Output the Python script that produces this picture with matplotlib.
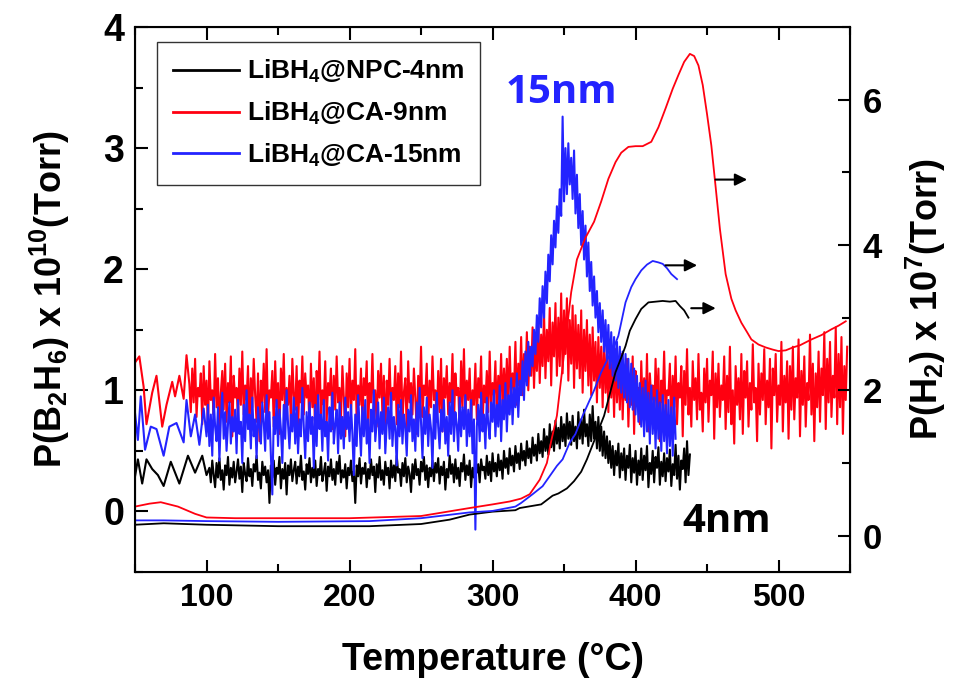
import numpy as np
import matplotlib
matplotlib.use("Agg")
import matplotlib.pyplot as plt
from matplotlib.ticker import MultipleLocator

plt.rcParams['font.family'] = ['Liberation Sans', 'DejaVu Sans']
plt.rcParams['font.weight'] = 'bold'
plt.rcParams['axes.labelweight'] = 'bold'
plt.rcParams['mathtext.fontset'] = 'custom'
plt.rcParams['mathtext.rm'] = 'Liberation Sans:bold'
plt.rcParams['mathtext.it'] = 'Liberation Sans:bold'
plt.rcParams['mathtext.bf'] = 'Liberation Sans:bold'

# B2H6 signal (left axis): sparse start, then 1 degC readings
red_b2h6_t0 = [50, 53, 56, 58, 62, 65, 69, 72, 76, 78, 81, 84, 86]
red_b2h6_v0 = [1.23, 1.28, 1.03, 0.72, 0.98, 1.12, 0.70, 0.88, 1.07, 0.95, 1.12, 0.93, 1.29]
red_b2h6 = [
    1.05, 0.82, 1.18, 0.90, 1.26, 0.78, 1.02, 0.95, 1.14, 0.72, 1.20, 0.88, 1.08, 0.66, 1.24, 0.92, 1.00, 0.80, 1.30, 0.86,
    1.10, 0.70, 0.98, 1.16, 0.84, 1.22, 0.74, 1.06, 0.90, 1.28, 0.62, 1.12, 0.94, 1.02, 0.76, 1.18, 0.88, 1.32, 0.80, 1.04,
    0.92, 1.20, 0.68, 1.10, 0.86, 1.26, 0.96, 0.74, 1.14, 0.58, 1.08, 0.90, 1.22, 0.82, 1.34, 0.78, 1.00, 0.94, 1.16, 0.70,
    1.24, 0.86, 1.06, 0.64, 1.18, 0.92, 1.30, 0.76, 1.02, 0.88, 1.12, 0.72, 1.26, 0.96, 0.84, 1.20, 0.66, 1.08, 0.90, 1.28,
    0.80, 1.14, 0.94, 1.04, 0.70, 1.22, 0.86, 1.10, 0.60, 1.16, 0.92, 1.32, 0.78, 1.00, 0.88, 1.24, 0.74, 1.06, 0.96, 1.18,
    0.68, 1.12, 0.84, 1.28, 0.90, 1.02, 0.76, 1.20, 0.94, 0.62, 1.14, 0.86, 1.26, 0.80, 1.08, 0.92, 1.34, 0.72, 1.04, 0.88,
    1.18, 0.74, 1.10, 0.96, 1.24, 0.66, 1.06, 0.90, 1.30, 0.82, 1.00, 0.70, 1.16, 0.94, 1.22, 0.78, 1.12, 0.60, 1.08, 0.88,
    1.26, 0.84, 1.02, 0.92, 1.20, 0.72, 1.14, 0.86, 1.32, 0.76, 0.98, 1.10, 0.68, 1.24, 0.90, 1.06, 0.80, 1.18, 0.94, 0.64,
    1.12, 0.88, 1.36, 0.78, 1.04, 0.96, 1.22, 0.70, 1.08, 0.86, 1.28, 0.92, 1.00, 0.74, 1.16, 0.82, 1.26, 0.66, 1.10, 0.94,
    1.20, 0.80, 1.06, 0.90, 1.30, 0.72, 1.14, 0.96, 1.02, 0.68, 1.24, 0.86, 1.34, 0.78, 1.08, 0.92, 1.18, 0.74, 1.00, 0.88,
    1.22, 0.76, 1.10, 0.94, 1.28, 0.70, 1.04, 0.90, 1.16, 0.82, 1.32, 0.86, 1.06, 0.96, 1.24, 0.78, 1.12, 0.92, 1.30, 0.84,
    1.18, 0.90, 1.26, 0.86, 1.36, 0.94, 1.14, 1.00, 1.40, 0.88, 1.22, 1.04, 1.44, 0.96, 1.30, 1.08, 1.48, 1.00, 1.36, 1.12,
    1.52, 1.02, 1.40, 1.16, 1.58, 1.06, 1.46, 1.20, 1.64, 1.10, 1.50, 1.24, 1.68, 1.04, 1.56, 1.28, 1.72, 1.12, 1.60, 1.20,
    1.80, 1.14, 1.66, 1.30, 1.76, 1.08, 1.58, 1.22, 1.70, 1.02, 1.62, 1.18, 1.54, 1.10, 1.66, 0.98, 1.50, 1.16, 1.58, 1.04,
    1.46, 0.96, 1.52, 1.08, 1.40, 0.90, 1.44, 1.02, 1.36, 0.86, 1.42, 0.98, 1.30, 0.82, 1.38, 0.94, 1.26, 0.78, 1.34, 0.90,
    1.22, 0.84, 1.30, 0.76, 1.18, 0.92, 1.26, 0.70, 1.12, 0.88, 1.28, 0.64, 1.16, 0.94, 1.02, 0.72, 1.24, 0.86, 1.10, 0.80,
    1.30, 0.66, 1.14, 0.92, 1.04, 0.74, 1.26, 0.84, 1.18, 0.58, 1.08, 0.90, 1.32, 0.78, 1.00, 0.96, 1.22, 0.68, 1.12, 0.86,
    1.28, 0.72, 1.06, 0.94, 1.20, 0.62, 1.16, 0.88, 1.34, 0.80, 1.02, 0.70, 1.24, 0.92, 1.10, 0.76, 1.30, 0.84, 0.98, 0.66,
    1.18, 0.90, 1.26, 0.74, 1.08, 0.96, 1.32, 0.60, 1.14, 0.86, 1.22, 0.78, 1.04, 0.92, 1.28, 0.68, 1.12, 0.82, 1.36, 0.72,
    1.00, 0.56, 1.20, 0.88, 1.10, 0.76, 1.30, 0.64, 1.16, 0.94, 1.24, 0.70, 1.06, 0.84, 1.38, 0.90, 1.02, 0.58, 1.22, 0.80,
    1.14, 0.92, 1.34, 0.72, 1.08, 0.86, 1.26, 0.52, 1.18, 0.96, 1.30, 0.74, 1.04, 0.88, 1.40, 0.66, 1.12, 0.90, 1.24, 0.60,
    1.20, 0.84, 1.36, 0.76, 1.10, 0.94, 1.42, 0.62, 1.16, 0.88, 1.28, 0.70, 1.06, 0.92, 1.46, 0.80, 1.22, 0.58, 1.14, 0.86,
    1.32, 0.74, 1.18, 0.96, 1.48, 0.68, 1.26, 0.90, 1.40, 0.78, 1.12, 0.94, 1.52, 0.72, 1.30, 0.86, 1.44, 0.64, 1.20, 0.92,
    1.36,
]

blue_b2h6_t0 = [50, 52, 54, 57, 61, 65, 70, 74, 79, 84, 86, 89, 92, 95, 98]
blue_b2h6_v0 = [0.81, 0.59, 0.95, 0.51, 0.70, 0.68, 0.46, 0.70, 0.73, 0.57, 0.92, 0.62, 0.80, 0.55, 0.85]
blue_b2h6 = [
    0.62, 0.88, 0.54, 0.80, 0.46, 0.94, 0.70, 0.58, 0.86, 0.42, 0.76, 0.98, 0.60, 0.82, 0.50, 0.72, 0.90, 0.56, 0.78, 0.66,
    0.84, 0.48, 0.92, 0.64, 0.74, 0.40, 0.88, 0.58, 1.00, 0.68, 0.80, 0.52, 0.94, 0.62, 0.76, 0.44, 0.86, 0.70, 0.56, 0.90,
    0.74, 0.50, 0.96, 0.60, 0.82, 0.46, 0.14, 0.78, 0.64, 0.92, 0.54, 0.84, 0.68, 0.40, 0.88, 0.60, 1.00, 0.72, 0.52, 0.80,
    0.66, 0.94, 0.56, 0.86, 0.48, 0.76, 0.62, 1.02, 0.70, 0.44, 0.82, 0.58, 0.90, 0.64, 0.78, 0.36, 0.88, 0.54, 0.96, 0.68,
    0.80, 0.50, 0.92, 0.62, 0.74, 0.42, 0.86, 0.66, 0.98, 0.56, 0.72, 0.84, 0.48, 0.90, 0.60, 0.78, 0.52, 0.94, 0.68, 0.82,
    0.58, 0.88, 0.64, 0.30, 0.80, 0.54, 0.96, 0.70, 0.46, 0.86, 0.62, 0.92, 0.56, 0.76, 0.40, 0.84, 0.66, 1.00, 0.58, 0.74,
    0.90, 0.52, 0.82, 0.64, 0.94, 0.48, 0.72, 0.86, 0.60, 0.98, 0.54, 0.78, 0.68, 0.38, 0.88, 0.62, 0.92, 0.56, 0.80, 0.70,
    0.46, 0.84, 0.66, 0.96, 0.58, 0.76, 0.50, 0.90, 0.62, 1.02, 0.72, 0.44, 0.86, 0.64, 0.94, 0.54, 0.80, 0.68, 0.36, 0.88,
    0.60, 0.98, 0.70, 0.52, 0.84, 0.66, 0.92, 0.56, 0.78, 0.46, 0.90, 0.64, 1.00, 0.58, 0.82, 0.72, 0.50, 0.94, 0.62, 0.86,
    0.68, 0.96, 0.54, 0.84, 0.62, 0.92, 0.48, 0.76, -0.15, 0.70, 0.88, 0.58, 0.98, 0.66, 0.80, 0.52, 0.94, 0.72, 0.60, 0.90,
    0.74, 1.00, 0.62, 0.88, 0.70, 1.04, 0.58, 0.92, 0.76, 1.06, 0.66, 0.96, 0.80, 1.10, 0.72, 1.02, 0.86, 1.14, 0.78, 1.08,
    0.96, 1.24, 0.92, 1.32, 1.04, 1.40, 1.12, 1.36, 1.20, 1.50, 1.30, 1.62, 1.40, 1.76, 1.52, 1.86, 1.60, 1.98, 1.72, 2.12,
    1.90, 2.28, 2.04, 2.40, 2.18, 2.52, 2.30, 2.66, 2.44, 3.26, 2.56, 3.00, 2.62, 3.04, 2.70, 2.92, 2.58, 2.98, 2.46, 2.78,
    2.34, 2.62, 2.20, 2.48, 2.08, 2.36, 1.94, 2.22, 1.82, 2.06, 1.70, 1.94, 1.60, 1.82, 1.48, 1.72, 1.40, 1.66, 1.32, 1.58,
    1.26, 1.54, 1.18, 1.48, 1.12, 1.44, 1.08, 1.40, 1.02, 1.36, 0.98, 1.32, 0.94, 1.30, 0.90, 1.26, 0.86, 1.22, 0.84, 1.18,
    0.80, 1.12, 0.74, 1.06, 0.70, 1.02, 0.62, 1.08, 0.66, 0.98, 0.56, 1.04, 0.64, 0.94, 0.52, 1.00, 0.60, 0.90, 0.50, 0.96,
    0.58, 0.88, 0.48, 0.92, 0.54, 0.86, 0.46, 0.94, 0.60,
]

black_b2h6_t0 = [50, 52, 55, 58, 62, 66, 70, 75, 81, 87, 92, 97, 100]
black_b2h6_v0 = [0.29, 0.43, 0.23, 0.43, 0.35, 0.30, 0.21, 0.41, 0.23, 0.46, 0.32, 0.46, 0.30]
black_b2h6 = [
    0.36, 0.24, 0.42, 0.30, 0.20, 0.40, 0.28, 0.44, 0.26, 0.34, 0.18, 0.38, 0.30, 0.45, 0.22, 0.36, 0.28, 0.41, 0.24, 0.33,
    0.43, 0.27, 0.37, 0.16, 0.40, 0.31, 0.25, 0.44, 0.29, 0.35, 0.21, 0.39, 0.33, 0.46, 0.26, 0.32, 0.19, 0.41, 0.30, 0.37,
    0.24, 0.34, 0.07, 0.38, 0.28, 0.42, 0.22, 0.36, 0.31, 0.45, 0.19, 0.35, 0.27, 0.40, 0.14, 0.38, 0.30, 0.43, 0.25, 0.34,
    0.41, 0.23, 0.37, 0.29, 0.46, 0.26, 0.33, 0.18, 0.39, 0.31, 0.44, 0.24, 0.36, 0.28, 0.42, 0.21, 0.35, 0.30, 0.45, 0.25,
    0.32, 0.40, 0.17, 0.37, 0.29, 0.43, 0.26, 0.35, 0.22, 0.41, 0.31, 0.46, 0.24, 0.34, 0.28, 0.39, 0.19, 0.36, 0.30, 0.42,
    0.25, 0.33, 0.07, 0.38, 0.29, 0.44, 0.23, 0.36, 0.31, 0.40, 0.20, 0.35, 0.27, 0.43, 0.30, 0.37, 0.16, 0.39, 0.28, 0.45,
    0.26, 0.34, 0.22, 0.41, 0.30, 0.36, 0.19, 0.42, 0.28, 0.38, 0.25, 0.46, 0.32, 0.35, 0.21, 0.40, 0.29, 0.44, 0.24, 0.37,
    0.31, 0.16, 0.39, 0.27, 0.43, 0.30, 0.35, 0.22, 0.41, 0.33, 0.45, 0.26, 0.38, 0.20, 0.36, 0.29, 0.42, 0.25, 0.40, 0.32,
    0.44, 0.23, 0.37, 0.30, 0.41, 0.18, 0.35, 0.28, 0.46, 0.31, 0.39, 0.24, 0.43, 0.27, 0.36, 0.21, 0.40, 0.33, 0.47, 0.26,
    0.38, 0.30, 0.42, 0.20, 0.36, 0.28, 0.45, 0.32, 0.39, 0.24, 0.43, 0.34, 0.37, 0.27, 0.46, 0.30, 0.41, 0.25, 0.48, 0.33,
    0.40, 0.29, 0.47, 0.34, 0.42, 0.27, 0.50, 0.36, 0.44, 0.31, 0.52, 0.38, 0.46, 0.33, 0.54, 0.40, 0.48, 0.35, 0.56, 0.42,
    0.50, 0.38, 0.58, 0.44, 0.52, 0.40, 0.61, 0.46, 0.55, 0.42, 0.64, 0.48, 0.58, 0.45, 0.68, 0.50, 0.62, 0.47, 0.72, 0.53,
    0.66, 0.50, 0.75, 0.56, 0.69, 0.52, 0.78, 0.58, 0.72, 0.54, 0.81, 0.60, 0.74, 0.55, 0.79, 0.58, 0.70, 0.52, 0.82, 0.60,
    0.76, 0.56, 0.84, 0.62, 0.72, 0.54, 0.80, 0.58, 0.87, 0.60, 0.74, 0.52, 0.78, 0.50, 0.70, 0.46, 0.66, 0.44, 0.62, 0.40,
    0.58, 0.36, 0.54, 0.30, 0.50, 0.38, 0.56, 0.28, 0.48, 0.34, 0.52, 0.26, 0.46, 0.36, 0.55, 0.24, 0.44, 0.32, 0.50, 0.22,
    0.42, 0.30, 0.52, 0.26, 0.46, 0.34, 0.54, 0.20, 0.40, 0.31, 0.50, 0.24, 0.45, 0.36, 0.53, 0.22, 0.41, 0.29, 0.48, 0.25,
    0.44, 0.33, 0.51, 0.21, 0.39, 0.30, 0.55, 0.27, 0.46, 0.18, 0.42, 0.35, 0.52, 0.24, 0.58, 0.30, 0.47,
]

# H2 signal (right axis)
red_h2_t = [50, 60, 68, 80, 92, 100, 120, 150, 200, 250, 284, 300, 312, 320, 326,
            333, 338, 341, 345, 350, 355, 359, 365, 371, 376, 381, 386, 390, 395,
            400, 405, 411, 416, 421, 426, 430, 434, 438, 441, 444, 447, 450, 453,
            456, 459, 463, 467, 470, 474, 478, 481, 486, 491, 496, 500, 505, 510,
            515, 523, 530, 537, 542, 547]
red_h2 = [0.40, 0.44, 0.46, 0.40, 0.30, 0.25, 0.24, 0.24, 0.24, 0.27, 0.38, 0.43,
          0.47, 0.51, 0.57, 0.77, 1.00, 1.30, 1.65, 2.50, 3.35, 3.80, 4.10, 4.32,
          4.60, 4.91, 5.14, 5.27, 5.35, 5.36, 5.36, 5.42, 5.62, 5.88, 6.15, 6.34,
          6.52, 6.63, 6.60, 6.47, 6.20, 5.80, 5.37, 4.80, 4.22, 3.60, 3.26, 3.10,
          2.93, 2.80, 2.70, 2.63, 2.59, 2.56, 2.54, 2.55, 2.59, 2.62, 2.70, 2.76,
          2.84, 2.89, 2.95]

blue_h2_t = [50, 70, 100, 150, 214, 250, 284, 300, 316, 320, 328, 335, 340, 345,
             349, 354, 358, 363, 366, 371, 376, 381, 385, 388, 393, 397, 400, 404,
             408, 412, 416, 419, 422, 425, 429]
blue_h2 = [0.21, 0.21, 0.20, 0.19, 0.20, 0.24, 0.32, 0.34, 0.40, 0.45, 0.57, 0.68,
           0.82, 0.96, 1.05, 1.28, 1.40, 1.65, 1.78, 2.00, 2.25, 2.45, 2.60, 2.75,
           3.21, 3.42, 3.53, 3.65, 3.73, 3.78, 3.76, 3.74, 3.68, 3.60, 3.53]

black_h2_t = [50, 70, 100, 150, 214, 250, 270, 284, 300, 316, 319, 334, 342, 346,
              352, 357, 362, 366, 370, 374, 378, 382, 386, 390, 393, 396, 400, 404,
              409, 414, 419, 424, 428, 431, 434, 437]
black_h2 = [0.15, 0.17, 0.15, 0.13, 0.13, 0.16, 0.22, 0.29, 0.33, 0.35, 0.38, 0.43,
            0.55, 0.58, 0.65, 0.75, 0.88, 1.05, 1.25, 1.45, 1.65, 1.95, 2.25, 2.45,
            2.61, 2.82, 2.98, 3.12, 3.21, 3.22, 3.23, 3.22, 3.23, 3.16, 3.10, 3.00]

labels = [r'LiBH$_4$@NPC-4nm', r'LiBH$_4$@CA-9nm', r'LiBH$_4$@CA-15nm']
RED = '#ff0010'
BLUE = '#2323ff'

t_red = np.concatenate([red_b2h6_t0, np.arange(88, 549)])
v_red = np.concatenate([red_b2h6_v0, red_b2h6])
t_blue = np.concatenate([blue_b2h6_t0, np.arange(100, 429)])
v_blue = np.concatenate([blue_b2h6_v0, blue_b2h6])
t_black = np.concatenate([black_b2h6_t0, np.arange(102, 439)])
v_black = np.concatenate([black_b2h6_v0, black_b2h6])

fig = plt.figure(figsize=(9.55, 6.85), dpi=100)
ax = fig.add_axes([0.1414, 0.165, 0.7487, 0.7956])

l_black, = ax.plot(t_black, v_black, color='black', lw=1.5, zorder=2, label=labels[0])
l_red, = ax.plot(t_red, v_red, color=RED, lw=1.5, zorder=3, label=labels[1])
l_blue, = ax.plot(t_blue, v_blue, color=BLUE, lw=1.5, zorder=4, label=labels[2])

ax.set_xlim(50, 550)
ax.set_ylim(-0.5, 4)
ax.xaxis.set_major_locator(MultipleLocator(100))
ax.xaxis.set_minor_locator(MultipleLocator(50))
ax.yaxis.set_major_locator(MultipleLocator(1))
ax.yaxis.set_minor_locator(MultipleLocator(0.5))
ax.tick_params(which='both', direction='in', top=True, right=False, width=1.5)
ax.tick_params(which='major', length=9)
ax.tick_params(which='minor', length=6)
ax.tick_params(axis='x', labelsize=23, pad=8)
ax.tick_params(axis='y', labelsize=27, pad=8)
for s in ax.spines.values():
    s.set_linewidth(1.5)

ax.set_xlabel('Temperature (°C)', fontsize=27, labelpad=21)
ax.set_ylabel(r'P(B$_2$H$_6$) x 10$^{10}$(Torr)', fontsize=26, labelpad=22)

ax.text(348, 3.46, '15nm', color=BLUE, fontsize=29, ha='center', va='center',
        family='Open Sans')
ax.text(464, -0.08, '4nm', color='black', fontsize=29, ha='center', va='center',
        family='Open Sans')

leg = ax.legend(handles=[l_black, l_red, l_blue], loc='upper left',
                bbox_to_anchor=(0.031, 0.972), borderaxespad=0, fontsize=19,
                frameon=True, fancybox=False, edgecolor='black',
                handlelength=2.5, handletextpad=0.3, labelspacing=0.55,
                borderpad=0.6)
leg.get_frame().set_linewidth(1.0)
for h in leg.get_lines():
    h.set_linewidth(2.0)

ax2 = ax.twinx()
ax2.plot(black_h2_t, black_h2, color='black', lw=1.3)
ax2.plot(blue_h2_t, blue_h2, color=BLUE, lw=1.3)
ax2.plot(red_h2_t, red_h2, color=RED, lw=1.3)
ax2.set_ylim(-0.5, 7)
ax2.yaxis.set_major_locator(MultipleLocator(2))
ax2.yaxis.set_minor_locator(MultipleLocator(1))
ax2.tick_params(which='both', direction='in', width=1.5, labelsize=25, pad=9)
ax2.tick_params(which='major', length=9)
ax2.tick_params(which='minor', length=6)
ax2.set_ylabel(r'P(H$_2$) x 10$^7$(Torr)', fontsize=26, labelpad=16)

# arrows pointing to the H2 scale
arrow = dict(arrowstyle='-|>', color='black', lw=1.5, mutation_scale=18)
ax2.annotate('', xy=(480, 4.90), xytext=(454, 4.90), arrowprops=arrow)
ax2.annotate('', xy=(445, 3.72), xytext=(419, 3.72), arrowprops=arrow)
ax2.annotate('', xy=(458, 3.13), xytext=(437, 3.13), arrowprops=arrow)

fig.savefig('out.png', dpi=100)
